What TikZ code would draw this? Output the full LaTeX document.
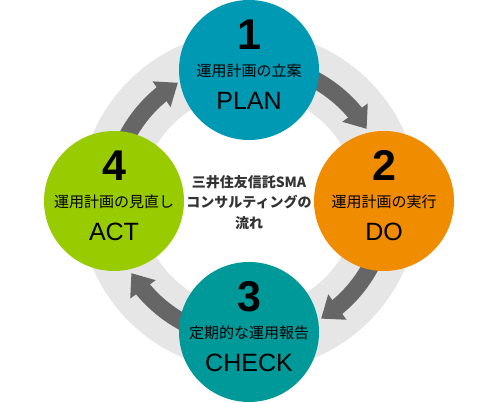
\documentclass[tikz,border=0pt]{standalone}
\usepackage{fontspec}
\setmainfont{Liberation Sans}
\newfontfamily\jpfont{Noto Sans CJK JP}
\usetikzlibrary{arrows.meta, bending, backgrounds, calc}
\definecolor{planblue}{RGB}{0,153,180}
\definecolor{doorange}{RGB}{240,140,0}
\definecolor{checkteal}{RGB}{0,153,153}
\definecolor{actgreen}{RGB}{153,204,0}
\definecolor{ringgray}{RGB}{230,230,230}
\definecolor{flowgray}{RGB}{102,102,102}
\definecolor{textgray}{RGB}{51,51,51}

\begin{document}
\begin{tikzpicture}[x=1pt, y=1pt,
    stage/.style={circle, minimum size=140pt, inner sep=0pt},
    stagenum/.style={font=\fontsize{43}{43}\selectfont\bfseries, inner sep=0pt},
    stagejp/.style={font=\jpfont\fontsize{15}{15}\selectfont, inner sep=0pt},
    stageen/.style={font=\fontsize{25}{25}\selectfont, inner sep=0pt},
    ringband/.style={draw=ringgray, line width=62pt},
    flow/.style={draw=flowgray, line width=17pt, -{Triangle[width=30pt, length=20pt]}},
]
    \useasboundingbox (0,0) rectangle (500,403);
    \coordinate (ring) at (249,202);

    % the four stages
    \node[stage, fill=planblue] (plan) at (249,333) {};
    \node[stage, fill=doorange] (do) at (384,202) {};
    \node[stage, fill=checkteal] (check) at (249,71) {};
    \node[stage, fill=actgreen] (act) at (114,202) {};

    \node[stagenum] at ([yshift=35.5pt]plan.center) {1};
    \node[stagejp] at ([yshift=-1pt]plan.center) {運用計画の立案};
    \node[stageen] at ([yshift=-31pt]plan.center) {PLAN};

    \node[stagenum] at ([yshift=35.5pt]do.center) {2};
    \node[stagejp] at ([yshift=-1pt]do.center) {運用計画の実行};
    \node[stageen] at ([yshift=-31pt]do.center) {DO};

    \node[stagenum] at ([yshift=35.5pt]check.center) {3};
    \node[stagejp] at ([yshift=-1pt]check.center) {定期的な運用報告};
    \node[stageen] at ([yshift=-31pt]check.center) {CHECK};

    \node[stagenum] at ([yshift=35.5pt]act.center) {4};
    \node[stagejp] at ([yshift=-1pt]act.center) {運用計画の見直し};
    \node[stageen] at ([yshift=-31pt]act.center) {ACT};

    % title in the middle
    \node[align=center, text=textgray, font=\jpfont\bfseries\fontsize{14}{20.5}\selectfont] (title) at (249,200.5)
        {三井住友信託SMA\\コンサルティングの\\流れ};

    % arcs start under the circle they leave
    \coordinate (actout) at ($(ring)+(155:138)$);
    \coordinate (planout) at ($(ring)+(65:138)$);
    \coordinate (doout) at ($(ring)+(-25:138)$);
    \coordinate (checkout) at ($(ring)+(-115:138)$);

    \begin{scope}[on background layer]
        \draw[ringband] (ring) circle[radius=139];
        \draw[flow] (actout) arc[start angle=155, end angle=121, radius=138];
        \draw[flow] (planout) arc[start angle=65, end angle=31.5, radius=138];
        \draw[flow] (doout) arc[start angle=-25, end angle=-58.5, radius=138];
        \draw[flow] (checkout) arc[start angle=-115, end angle=-148.5, radius=138];
    \end{scope}
\end{tikzpicture}
\end{document}
